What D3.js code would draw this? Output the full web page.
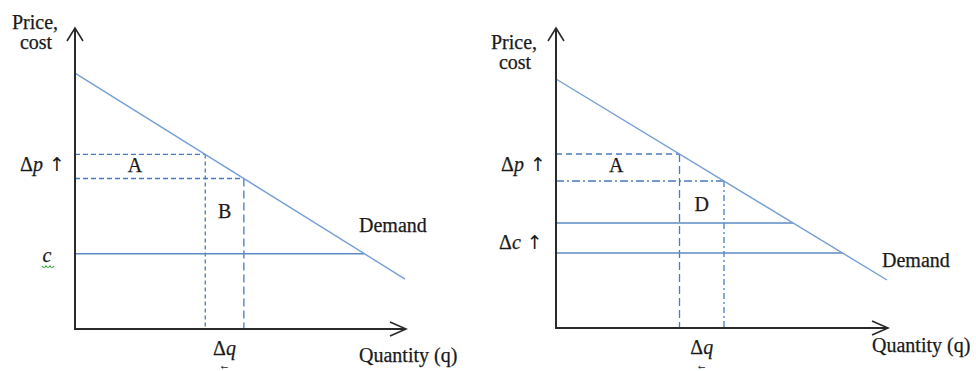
<!DOCTYPE html>
<html>
<head>
<meta charset="utf-8">
<script src="https://cdn.jsdelivr.net/npm/d3@7"></script>
<style>
  body { margin: 0; background: #fff; }
  text { font-family: "Liberation Serif", "Times New Roman", serif; fill: #1a1a1a; stroke: #1a1a1a; stroke-width: 0.25; }
</style>
</head>
<body>
<div id="chart"></div>
<script>
// values are in abstract units: quantity 0..100 along the axis, price 0..100 up the axis
var leftDemand = [{q: 0, p: 85}, {q: 100, p: 16.6}];
var leftPrices = [58, 50];        // old price, new price (dashed)
var leftCosts = [25];             // marginal cost
var leftLabels = ["A", "B"];

var rightDemand = [{q: 0, p: 83}, {q: 100, p: 16}];
var rightPrices = [58, 49];
var rightCosts = [35, 25];        // cost after and before the increase
var rightLabels = ["A", "D"];

var width = 976, height = 371;

var svg = d3.select("#chart").append("svg")
    .attr("width", width)
    .attr("height", height);

var blue = "#769fd3", dashBlue = "#4a7bbd", costBlue = "#5d8ac6";

// price on the demand line -> quantity
function qAt(demand, p) {
    var a = demand[0], b = demand[1];
    return a.q + (p - a.p) * (b.q - a.q) / (b.p - a.p);
}

function drawPanel(opt) {
    var x = d3.scaleLinear().domain([0, 100]).range([opt.left, opt.right]);
    var y = d3.scaleLinear().domain([0, 100]).range([opt.bottom, opt.top]);
    var g = svg.append("g");
    var line = d3.line().x(function(d) { return x(d.q); }).y(function(d) { return y(d.p); });

    // dashed price lines, axis to demand
    opt.prices.forEach(function(p, i) {
        var q = qAt(opt.demand, p);
        g.append("line")
            .attr("x1", x(0)).attr("x2", x(q))
            .attr("y1", y(p)).attr("y2", y(p))
            .attr("stroke", dashBlue).attr("stroke-width", 1.3)
            .attr("stroke-dasharray", opt.hDash[i]);
        g.append("line")
            .attr("x1", x(q)).attr("x2", x(q))
            .attr("y1", y(p)).attr("y2", y(0))
            .attr("stroke", dashBlue).attr("stroke-width", 1.3)
            .attr("stroke-dasharray", opt.vDash[i]);
    });

    // cost lines
    opt.costs.forEach(function(c) {
        g.append("line")
            .attr("x1", x(0)).attr("x2", x(qAt(opt.demand, c)))
            .attr("y1", y(c)).attr("y2", y(c))
            .attr("stroke", costBlue).attr("stroke-width", 1.5);
    });

    g.append("path")
        .datum(opt.demand)
        .attr("d", line)
        .attr("fill", "none")
        .attr("stroke", blue)
        .attr("stroke-width", 1.4);

    // axes with open arrow heads
    var axisPath = "M" + x(0) + "," + (y(100) + 1) + "V" + y(0) + "H" + (x(100) + 1);
    g.append("path").attr("d", axisPath)
        .attr("fill", "none").attr("stroke", "#2a2a2a").attr("stroke-width", 2);
    g.append("path")
        .attr("d", "M" + (x(0) - 8) + "," + (y(100) + 13) + "L" + x(0) + "," + y(100) + "L" + (x(0) + 8) + "," + (y(100) + 13))
        .attr("fill", "none").attr("stroke", "#2a2a2a").attr("stroke-width", 1.6);
    g.append("path")
        .attr("d", "M" + (x(100) - 15) + "," + (y(0) - 7) + "L" + (x(100) + 1) + "," + y(0) + "L" + (x(100) - 15) + "," + (y(0) + 7))
        .attr("fill", "none").attr("stroke", "#2a2a2a").attr("stroke-width", 1.6);

    // texts
    var t = g.append("g").attr("font-size", 20);
    t.append("text").attr("x", opt.yTitle[0]).attr("y", opt.yTitle[1]).attr("text-anchor", "middle").text("Price,");
    t.append("text").attr("x", opt.yTitle[0] + 1).attr("y", opt.yTitle[1] + 20).attr("text-anchor", "middle").text("cost");

    var dp = t.append("text").attr("x", x(0) - 55).attr("y", y(opt.prices[0]) + 17);
    dp.append("tspan").text("Δ");
    dp.append("tspan").attr("font-style", "italic").text("p");
    dp.append("tspan").attr("font-family", "DejaVu Sans").attr("font-size", 19).attr("stroke-width", 0).text(" ↑");

    var qMid = (qAt(opt.demand, opt.prices[0]) + qAt(opt.demand, opt.prices[1])) / 2;
    var dq = t.append("text").attr("x", x(qMid)).attr("y", y(0) + 26).attr("text-anchor", "middle");
    dq.append("tspan").text("Δ");
    dq.append("tspan").attr("font-style", "italic").text("q");
    t.append("text").attr("x", x(qMid)).attr("y", 369).attr("text-anchor", "middle")
        .attr("font-size", 11).attr("stroke-width", 0).text("←");

    t.append("text").attr("x", x(opt.areaA[0])).attr("y", opt.areaA[1]).attr("text-anchor", "middle").text(opt.labels[0]);
    t.append("text").attr("x", x(qMid)).attr("y", opt.areaB).attr("text-anchor", "middle").text(opt.labels[1]);

    t.append("text").attr("x", opt.demandLabel[0]).attr("y", opt.demandLabel[1]).text("Demand");
    t.append("text").attr("x", opt.qLabel[0]).attr("y", opt.qLabel[1]).text("Quantity (q)");
    return {g: t, x: x, y: y};
}

var L = drawPanel({
    left: 75, right: 405, top: 28, bottom: 329,
    demand: leftDemand, prices: leftPrices, costs: leftCosts, labels: leftLabels,
    hDash: ["5,3", "5,3"], vDash: ["4,3", "8,4"],
    yTitle: [35, 29], areaA: [18.2, 172], areaB: 218,
    demandLabel: [359, 232], qLabel: [359, 362]
});
// cost label with the little green squiggle under it
L.g.append("text").attr("x", 47).attr("y", 262).attr("text-anchor", "middle")
    .attr("font-style", "italic").text("c");
L.g.append("path").attr("d", "M42,266 q2,3 4,0 q2,3 4,0 q2,3 4,0")
    .attr("fill", "none").attr("stroke", "#3aa03a").attr("stroke-width", 1.2);

var R = drawPanel({
    left: 556, right: 887, top: 28, bottom: 328,
    demand: rightDemand, prices: rightPrices, costs: rightCosts, labels: rightLabels,
    hDash: ["6,4", "8,3,2,3"], vDash: ["8,4", "6,3,2,3"],
    yTitle: [514, 49], areaA: [18.2, 172], areaB: 211,
    demandLabel: [882, 267], qLabel: [872, 352]
});
var dc = R.g.append("text").attr("x", R.x(0) - 57).attr("y", 249);
dc.append("tspan").text("Δ");
dc.append("tspan").attr("font-style", "italic").text("c");
dc.append("tspan").attr("font-family", "DejaVu Sans").attr("font-size", 19).attr("stroke-width", 0).text(" ↑");
</script>
</body>
</html>
